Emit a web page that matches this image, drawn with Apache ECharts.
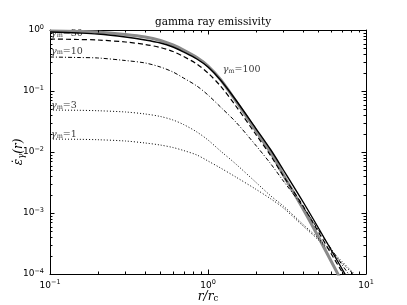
<!DOCTYPE html>
<html><head><meta charset="utf-8">
<script src="https://cdn.jsdelivr.net/npm/echarts@6/dist/echarts.min.js"></script>
<style>html,body{margin:0;padding:0;background:#fff}#c{width:407px;height:305px}</style>
</head><body><div id="c"></div>
<script>
// r / r_c sample points
const r = [0.1, 0.15, 0.2, 0.3, 0.4, 0.5, 0.6, 0.7, 0.85, 1, 1.2, 1.5, 2, 2.5, 3, 4, 5, 7, 10];
// gray thick reference curve
const gammaRef = [0.963, 0.945, 0.927, 0.844, 0.768, 0.673, 0.5676, 0.470, 0.354, 0.257, 0.1543, 0.0686, 0.0229, 0.00963, 0.0042, 0.001163, 0.000404, 0.0000768, 0.0000135];
const gamma100 = [0.927, 0.893, 0.860, 0.768, 0.686, 0.612, 0.526, 0.436, 0.3346, 0.2473, 0.1515, 0.0712, 0.0247, 0.01078, 0.00507, 0.001515, 0.000568, 0.0001254, 0.000025];
const gamma30  = [0.712, 0.699, 0.686, 0.636, 0.5784, 0.5166, 0.4441, 0.3678, 0.2771, 0.197, 0.1208, 0.0568, 0.01973, 0.0086, 0.00404, 0.0013, 0.000488, 0.000112, 0.0000267];
const gamma10  = [0.361, 0.354, 0.348, 0.316, 0.288, 0.247, 0.205, 0.1633, 0.1208, 0.086, 0.0547, 0.0310, 0.0130, 0.00636, 0.003346, 0.001254, 0.000526, 0.000146, 0.0000389];
const gamma3   = [0.0488, 0.0483, 0.0475, 0.0453, 0.0420, 0.0382, 0.03346, 0.02823, 0.0213, 0.01573, 0.01038, 0.00636, 0.003223, 0.0019, 0.0013, 0.000648, 0.000382, 0.0001633, 0.0000636];
const gamma1   = [0.01633, 0.01615, 0.0159, 0.01515, 0.01405, 0.0130, 0.01185, 0.01058, 0.00893, 0.00712, 0.00547, 0.00389, 0.00247, 0.0017, 0.00121, 0.000612, 0.000361, 0.0001545, 0.0000612];
// curve annotations
const annNames = ['100', '30', '10', '3', '1'];
const annR = [1.22, 0.1, 0.1, 0.1, 0.1];
const annV = [0.221, 0.86, 0.452, 0.0568, 0.019];
// tick labels (exponents of 10)
const xTickExp = {'0.1': '\u22121', '1': '0', '10': '1'};
const yTickExp = {'0.0001': '\u22124', '0.001': '\u22123', '0.01': '\u22122', '0.1': '\u22121', '1': '0'};
// minor tick values
const xMinor = [0.2, 0.3, 0.4, 0.5, 0.6, 0.7, 0.8, 0.9, 2, 3, 4, 5, 6, 7, 8, 9];
const yMinor = [0.0002, 0.0003, 0.0004, 0.0005, 0.0006, 0.0007, 0.0008, 0.0009,
                0.002, 0.003, 0.004, 0.005, 0.006, 0.007, 0.008, 0.009,
                0.02, 0.03, 0.04, 0.05, 0.06, 0.07, 0.08, 0.09,
                0.2, 0.3, 0.4, 0.5, 0.6, 0.7, 0.8, 0.9];

const xMin = 0.1, xMax = 10, yMin = 0.0001, yMax = 1;
const pair = arr => r.map((x, i) => [x, arr[i]]);
const chart = echarts.init(document.getElementById('c'), null, {renderer: 'canvas'});
const black = '#000';
const tickRich = {
  b: {fontSize: 9, fontFamily: 'DejaVu Sans', color: black},
  s: {fontSize: 6.5, fontFamily: 'DejaVu Sans', color: black, padding: [0, 0, 6, 0]}
};
function expFmt(map) {
  return v => {
    const key = String(+v.toPrecision(3));
    const e = map[key] !== undefined ? map[key] : String(Math.round(Math.log10(v))).replace('-', '\u2212');
    return '{b|10}{s|' + e + '}';
  };
}
function baseAxis(extra) {
  return Object.assign({
    type: 'log', logBase: 10, nameMoveOverlap: false,
    splitLine: {show: false}, minorTick: {show: false}, minorSplitLine: {show: false}
  }, extra);
}
const option = {
  animation: false,
  backgroundColor: '#fff',
  title: {
    text: 'gamma ray emissivity', left: 208, top: 12, textAlign: 'center',
    textStyle: {fontFamily: 'DejaVu Serif', fontSize: 10.5, fontWeight: 'normal', color: black}
  },
  grid: {left: 50, right: 41, top: 30, bottom: 31, containLabel: false, outerBoundsMode: 'none'},
  xAxis: [
    baseAxis({min: xMin, max: xMax, position: 'bottom',
      axisLine: {show: true, onZero: false, lineStyle: {color: black, width: 1}},
      axisTick: {show: true, inside: true, length: 4.5, lineStyle: {color: black}},
      axisLabel: {show: true, margin: 5, formatter: expFmt(xTickExp), rich: tickRich},
      name: '{i|r/r}{s|c}', nameLocation: 'middle', nameGap: 16,
      nameTextStyle: {rich: {
        i: {fontFamily: 'DejaVu Serif', fontStyle: 'italic', fontSize: 12, color: black},
        s: {fontFamily: 'DejaVu Serif', fontSize: 8.5, color: black, padding: [4, 0, 0, 0]}
      }}
    }),
    baseAxis({min: xMin, max: xMax, position: 'top',
      axisLine: {show: true, onZero: false, lineStyle: {color: black, width: 1}},
      axisTick: {show: true, inside: true, length: 4.5, lineStyle: {color: black}},
      axisLabel: {show: false}})
  ],
  yAxis: [
    baseAxis({min: yMin, max: yMax, position: 'left',
      axisLine: {show: true, onZero: false, lineStyle: {color: black, width: 1}},
      axisTick: {show: true, inside: true, length: 4.5, lineStyle: {color: black}},
      axisLabel: {show: true, margin: 6, formatter: expFmt(yTickExp), rich: tickRich},
      name: '{e|\u03b5\u0307}{s|\u03b3}{e|(r)}', nameLocation: 'middle', nameGap: 24, nameRotate: 90,
      nameTextStyle: {rich: {
        e: {fontFamily: 'DejaVu Serif', fontStyle: 'italic', fontSize: 12, color: black},
        s: {fontFamily: 'DejaVu Serif', fontStyle: 'italic', fontSize: 8.5, color: black, padding: [5, 0, 0, 0]}
      }}
    }),
    baseAxis({min: yMin, max: yMax, position: 'right',
      axisLine: {show: true, onZero: false, lineStyle: {color: black, width: 1}},
      axisTick: {show: true, inside: true, length: 4.5, lineStyle: {color: black}},
      axisLabel: {show: false}})
  ],
  series: [
    {type: 'line', data: pair(gammaRef), smooth: 0.3, symbol: 'none', clip: true,
      lineStyle: {color: '#8a8a8a', width: 3}},
    {type: 'line', data: pair(gamma100), smooth: 0.3, symbol: 'none', clip: true,
      lineStyle: {color: black, width: 1.4}},
    {type: 'line', data: pair(gamma30), smooth: 0.3, symbol: 'none', clip: true,
      lineStyle: {color: black, width: 1.2, type: [5, 3]}},
    {type: 'line', data: pair(gamma10), smooth: 0.3, symbol: 'none', clip: true,
      lineStyle: {color: black, width: 1, type: [4, 2, 1, 2]}},
    {type: 'line', data: pair(gamma3), smooth: 0.3, symbol: 'none', clip: true,
      lineStyle: {color: black, width: 1, type: [1, 2]}},
    {type: 'line', data: pair(gamma1), smooth: 0.3, symbol: 'none', clip: true,
      lineStyle: {color: black, width: 1, type: [1, 2]}},
    {type: 'scatter', symbolSize: 0, silent: true, clip: false,
      data: annNames.map((n, i) => ({value: [annR[i], annV[i]], name: n})),
      label: {show: true, position: 'right', distance: 1,
        formatter: p => '{g|\u03b3}{m|m}{t|=' + p.name + '}',
        rich: {
          g: {fontFamily: 'DejaVu Serif', fontStyle: 'italic', fontSize: 9.5, color: black},
          m: {fontFamily: 'DejaVu Serif', fontSize: 6.5, color: black, padding: [3, 0, 0, 0]},
          t: {fontFamily: 'DejaVu Serif', fontSize: 9.5, color: black}
        }}}
  ]
};
chart.setOption(option);

// minor ticks (log decades 2..9) positioned through the chart's own scales
const ticks = [];
const L = 2.5;
const seg = (x1, y1, x2, y2) => ({type: 'line', silent: true, z: 10,
  shape: {x1, y1, x2, y2}, style: {stroke: black, lineWidth: 1}});
xMinor.forEach(v => {
  const b = chart.convertToPixel({gridIndex: 0}, [v, yMin]);
  const t = chart.convertToPixel({gridIndex: 0}, [v, yMax]);
  const x = Math.round(b[0]) + 0.5;
  ticks.push(seg(x, b[1], x, b[1] - L), seg(x, t[1], x, t[1] + L));
});
yMinor.forEach(v => {
  const l = chart.convertToPixel({gridIndex: 0}, [xMin, v]);
  const rr = chart.convertToPixel({gridIndex: 0}, [xMax, v]);
  const y = Math.round(l[1]) + 0.5;
  ticks.push(seg(l[0], y, l[0] + L, y), seg(rr[0], y, rr[0] - L, y));
});
chart.setOption({graphic: {elements: ticks}});
</script>
</body></html>
